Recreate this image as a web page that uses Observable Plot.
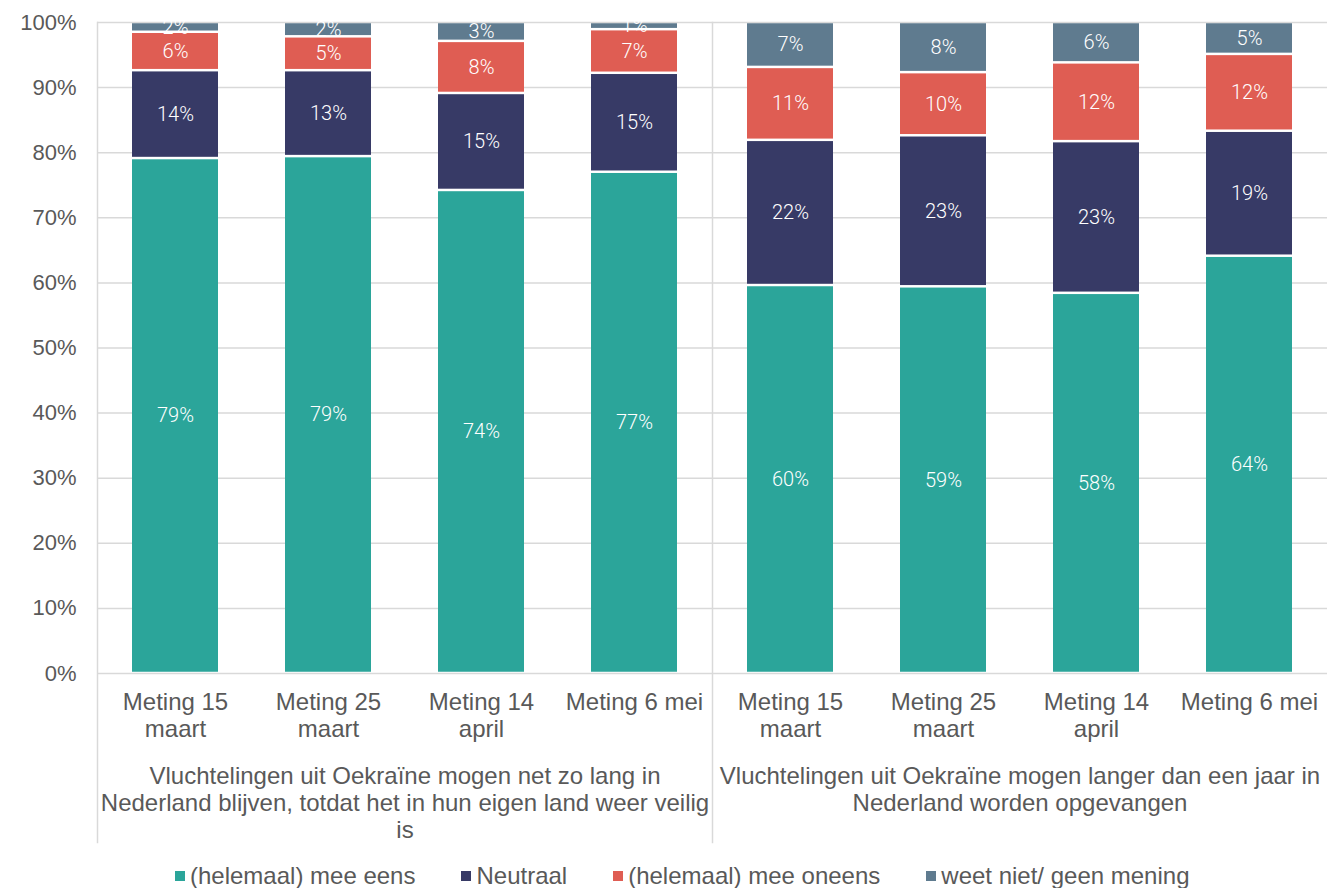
<!DOCTYPE html>
<html><head><meta charset="utf-8">
<script src="https://cdn.jsdelivr.net/npm/d3@7"></script>
<script src="https://cdn.jsdelivr.net/npm/@observablehq/plot@0.6"></script>
<style>
body{margin:0;background:#fff;}
#legend{display:flex;align-items:center;padding-left:175px;margin-top:13px;font-family:"Liberation Sans",Arial,sans-serif;font-size:24px;color:#595959;line-height:26px;}
.item{display:flex;align-items:center;margin-right:46px;}
.sw{width:10px;height:10px;margin-right:5px;flex:none;}
</style></head><body><div id="chart"></div><div id="legend"></div>
<script>
const groups = [
  "Vluchtelingen uit Oekraïne mogen net zo lang in\nNederland blijven, totdat het in hun eigen land weer veilig\nis",
  "Vluchtelingen uit Oekraïne mogen langer dan een jaar in\nNederland worden opgevangen"
];
const metingen = ["Meting 15\nmaart", "Meting 25\nmaart", "Meting 14\napril", "Meting 6 mei"];
const series = ["(helemaal) mee eens", "Neutraal", "(helemaal) mee oneens", "weet niet/ geen mening"];
const colors = ["#2ba59a", "#373a66", "#df5d53", "#5f7b8f"];
const meeEens  = [79.1, 79.4, 74.2, 77.0, 59.6, 59.4, 58.4, 64.1];
const neutraal = [13.5, 13.2, 14.9, 15.2, 22.3, 23.2, 23.3, 19.2];
const oneens   = [5.9, 5.2, 8.0, 6.7, 11.2, 9.7, 12.1, 11.8];
const weetNiet = [1.5, 2.2, 2.9, 1.1, 6.9, 7.7, 6.2, 4.9];
const yTicks = [0, 10, 20, 30, 40, 50, 60, 70, 80, 90, 100];

const seriesValues = [meeEens, neutraal, oneens, weetNiet];
const data = [];
for (let i = 0; i < 8; i++) {
  for (let s = 0; s < series.length; s++) {
    data.push({group: groups[Math.floor(i / 4)], meting: metingen[i % 4], serie: series[s], value: seriesValues[s][i]});
  }
}

const plot = Plot.plot({
  width: 1327, height: 850,
  marginLeft: 97, marginRight: 0, marginTop: 22, marginBottom: 177,
  style: {fontFamily: '"Liberation Sans", Arial, sans-serif', fontSize: "23px", color: "#595959", background: "white"},
  fx: {domain: groups, paddingInner: 0, paddingOuter: 0, axis: null},
  x: {domain: metingen, paddingInner: 0.44, paddingOuter: 0.22, axis: null},
  y: {domain: [0, 100], axis: null},
  color: {domain: series, range: colors},
  marks: [
    Plot.gridY(yTicks, {stroke: "#d9d9d9", strokeOpacity: 1, strokeWidth: 1.5}),
    Plot.axisY(yTicks, {anchor: "left", label: null, tickSize: 0, tickPadding: 21, tickFormat: d => d + "%", fontSize: 22}),
    Plot.axisX({anchor: "bottom", label: null, tickSize: 0, tickPadding: 17, lineHeight: 1.13, fontSize: 24}),
    Plot.barY(data, {fx: "group", x: "meting", y: "value", fill: "serie", insetTop: 1.25, insetBottom: 1.25}),
    Plot.text(data, Plot.stackY({fx: "group", x: "meting", y: "value", z: "serie", text: d => Math.round(d.value) + "%", fill: "white", fontFamily: "Roboto", fontWeight: 300, fontSize: 20})),
    Plot.text(groups, {fx: d => d, text: d => d, frameAnchor: "bottom", lineAnchor: "top", dy: 91, lineHeight: 1.13, fontSize: 24}),
    Plot.frame({anchor: "left", stroke: "#d9d9d9", strokeWidth: 1.5, insetBottom: -169})
  ]
});
document.getElementById("chart").appendChild(plot);

const legend = document.getElementById("legend");
series.forEach((s, i) => {
  const item = document.createElement("div");
  item.className = "item";
  const sw = document.createElement("span");
  sw.className = "sw";
  sw.style.background = colors[i];
  const t = document.createElement("span");
  t.textContent = s;
  item.appendChild(sw); item.appendChild(t);
  legend.appendChild(item);
});
</script>
</body></html>
